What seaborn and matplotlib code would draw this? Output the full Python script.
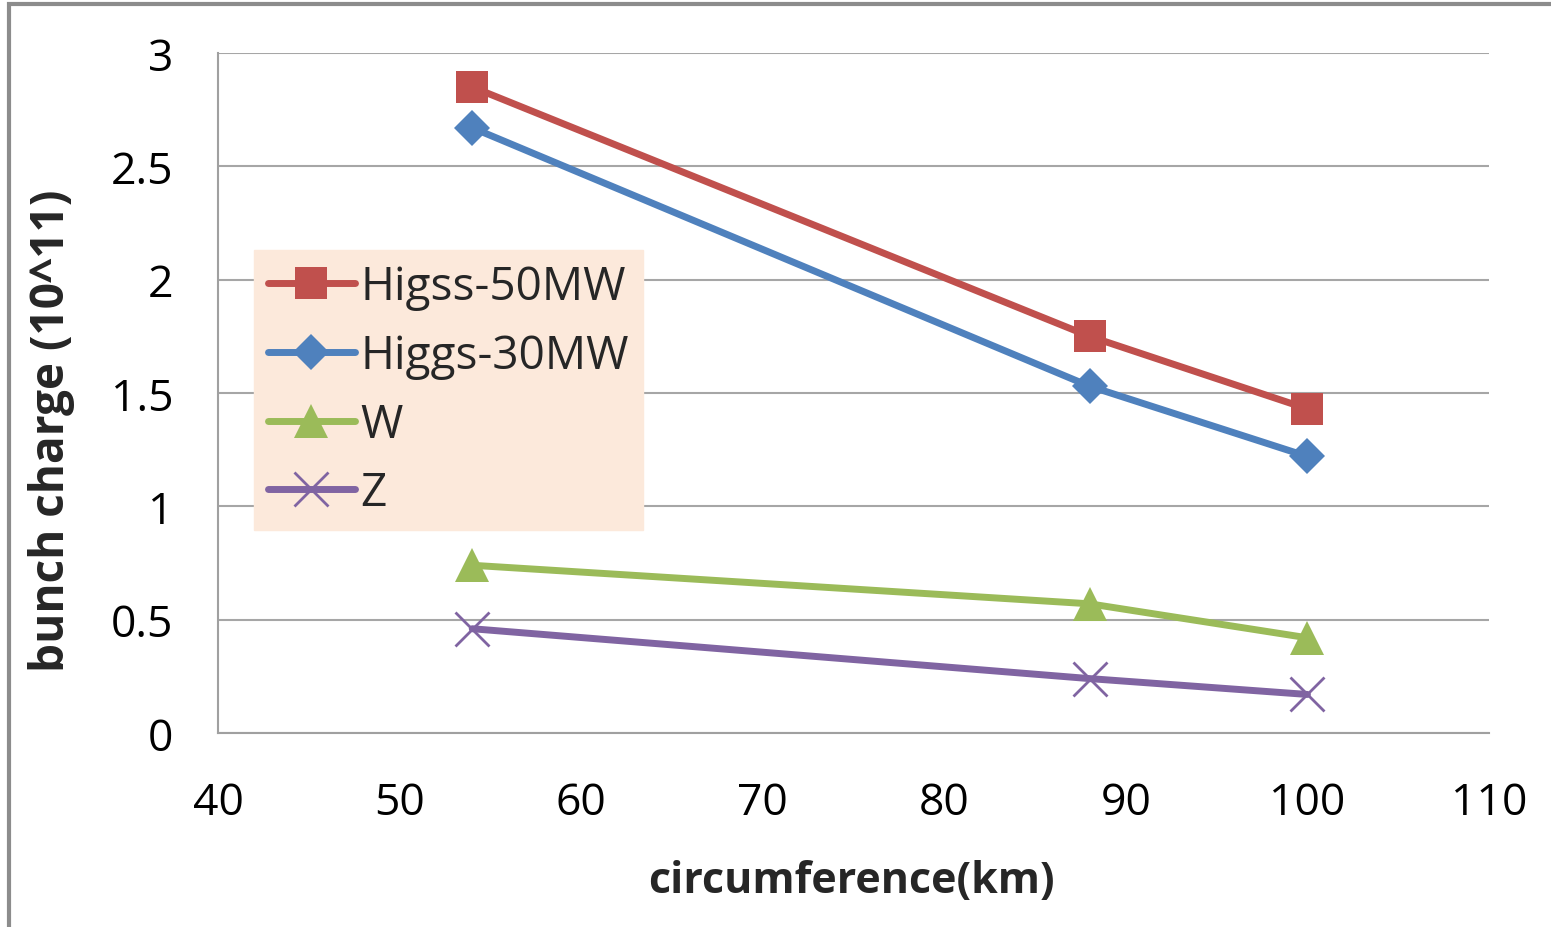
import matplotlib
matplotlib.use("Agg")
import matplotlib.pyplot as plt
import seaborn as sns
import pandas as pd
from matplotlib.patches import Rectangle

circumference = [54, 88, 100]
higgs_50 = [2.85, 1.75, 1.43]
higgs_30 = [2.67, 1.53, 1.22]
w_vals = [0.74, 0.57, 0.42]
z_vals = [0.46, 0.24, 0.17]
series_names = ["Higss-50MW", "Higgs-30MW", "W", "Z"]
x_ticks = [40, 50, 60, 70, 80, 90, 100, 110]
y_ticks = [0, 0.5, 1, 1.5, 2, 2.5, 3]
y_tick_labels = ["0", "0.5", "1", "1.5", "2", "2.5", "3"]

sns.set_theme(style="white")
plt.rcParams["font.family"] = ["Open Sans", "DejaVu Sans"]

fig = plt.figure(figsize=(15.51, 9.28), dpi=100)
ax = fig.add_axes([218 / 1551, 1 - 734 / 928, (1489 - 218) / 1551, (734 - 54) / 928])

styles = [
    (higgs_50, "#C0504D", "s", 23, 0),
    (higgs_30, "#4F81BD", "D", 18, 0),
    (w_vals, "#9BBB59", "^", 24, 0),
    (z_vals, "#8064A2", "x", 24, 2.0),
]
for name, (vals, color, marker, ms, mew) in zip(series_names, styles):
    df = pd.DataFrame({"x": circumference, "y": vals})
    kw = dict(marker=marker, markersize=ms, color=color, linewidth=5, label=name)
    if marker == "x":
        kw.update(markeredgewidth=mew, markeredgecolor=color)
    else:
        kw.update(markeredgewidth=0)
    sns.lineplot(data=df, x="x", y="y", ax=ax, **kw)

ax.set_xlim(40, 110)
ax.set_ylim(0, 3)
ax.set_xticks(x_ticks)
ax.set_yticks(y_ticks)
ax.set_yticklabels(y_tick_labels)
ax.tick_params(axis="both", labelsize=32, colors="#A0A0A0", labelcolor="black",
               length=12, width=1.5, direction="out")
ax.tick_params(axis="x", pad=22)
ax.tick_params(axis="y", pad=20)
ax.yaxis.grid(True, color="#A6A6A6", linewidth=1.5)
ax.xaxis.grid(False)
for side in ["top", "right"]:
    ax.spines[side].set_visible(False)
for side in ["left", "bottom"]:
    ax.spines[side].set_color("#A0A0A0")
    ax.spines[side].set_linewidth(1.5)

ax.set_xlabel("circumference(km)", fontsize=31, fontweight="bold")
ax.set_ylabel("bunch charge (10^11)", fontsize=33, fontweight="bold")
ax.xaxis.set_label_coords(0.498, -0.186)
ax.yaxis.set_label_coords(-0.1125, 0.446)

leg = ax.legend(loc="upper left", bbox_to_anchor=((254 - 218) / 1271, (734 - 251) / 680),
                fontsize=33, frameon=True, fancybox=False, handlelength=1.9,
                handletextpad=0.12, labelspacing=0.5, borderpad=0.3,
                borderaxespad=0)
leg.get_frame().set_facecolor("#FCE9DB")
leg.get_frame().set_edgecolor("#FCE9DB")
leg.get_frame().set_alpha(1)

# outer chart frame
fig.patches.append(Rectangle((9 / 1551, -0.1), 1.2, 1 - 5 / 928 + 0.1, transform=fig.transFigure,
                             fill=False, edgecolor="#8C8C8C", linewidth=3))

fig.savefig("out.png", dpi=100)
